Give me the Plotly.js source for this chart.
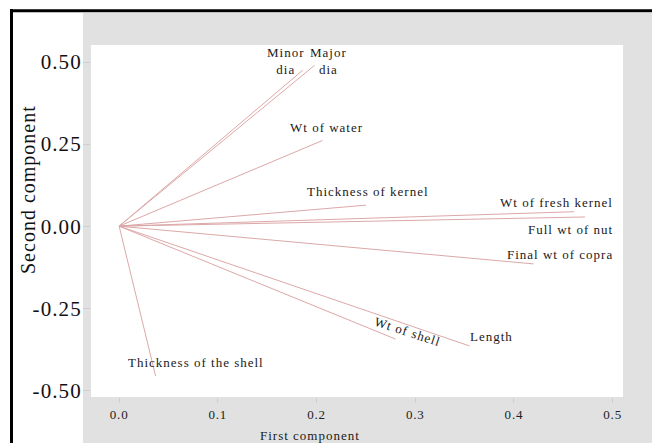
<!DOCTYPE html>
<html>
<head>
<meta charset="utf-8">
<script src="https://cdn.plot.ly/plotly-3.0.1.min.js"></script>
<style>
html,body{margin:0;padding:0;background:#fff;overflow:hidden;width:652px;height:443px;}
#chart{width:652px;height:443px;}
.annotation-text{letter-spacing:1.0px;}
.xtick text{letter-spacing:0.8px;}
.ytick text{letter-spacing:1.1px;}
</style>
</head>
<body>
<div id="chart"></div>
<script>
// ---- data (loadings) ----
const variables = ['Minor<br>dia','Major<br>dia','Wt of water','Thickness of kernel','Wt of fresh kernel',
                   'Full wt of nut','Final wt of copra','Length','Wt of shell','Thickness of the shell'];
const firstComponent  = [0.186, 0.198, 0.206, 0.250, 0.461, 0.472, 0.420, 0.355, 0.280, 0.037];
const secondComponent = [0.475, 0.490, 0.261, 0.064, 0.044, 0.028, -0.115, -0.365, -0.344, -0.457];
const xTickVals = [0, 0.1, 0.2, 0.3, 0.4, 0.5];
const xTickText = ['0.0','0.1','0.2','0.3','0.4','0.5'];
const yTickVals = [0.5, 0.25, 0, -0.25, -0.5];
const yTickText = ['0.50','0.25','0.00','-0.25','-0.50'];

// ---- layout geometry ----
const W = 652, H = 443;
const M = {l: 91, r: 29, t: 45, b: 46};
const PW = W - M.l - M.r, PH = H - M.t - M.b;
const px = x => (x - M.l) / PW;          // pixel -> paper x
const py = y => (H - M.b - y) / PH;      // pixel -> paper y

// label placement (data coords) per variable
const labelPlace = [
  {x: 0.169, y: 0.502, xa: 'center', a: 0},
  {x: 0.212, y: 0.502, xa: 'center', a: 0},
  {x: 0.2104, y: 0.2997, xa: 'center', a: 0},
  {x: 0.2517, y: 0.1046, xa: 'center', a: 0},
  {x: 0.502, y: 0.071, xa: 'right', a: 0},
  {x: 0.502, y: -0.0091, xa: 'right', a: 0},
  {x: 0.502, y: -0.0875, xa: 'right', a: 0},
  {x: 0.353, y: -0.3375, xa: 'left', a: 0},
  {x: 0.292, y: -0.322, xa: 'center', a: 18},
  {x: 0.0068, y: -0.4146, xa: 'left', a: 0}
];

const serif = 'Liberation Serif';
const lineColor = 'rgb(220,168,168)';

const traces = variables.map((v, i) => ({
  type: 'scatter', mode: 'lines',
  x: [0, firstComponent[i]], y: [0, secondComponent[i]],
  line: {color: lineColor, width: 1},
  hoverinfo: 'skip', showlegend: false
}));

const annotations = variables.map((v, i) => ({
  text: v, x: labelPlace[i].x, y: labelPlace[i].y, xref: 'x', yref: 'y',
  xanchor: labelPlace[i].xa, yanchor: 'middle', textangle: labelPlace[i].a,
  showarrow: false, font: {family: serif, size: 13, color: '#1a1a1a'}
}));
annotations.push({
  text: 'First component', xref: 'paper', yref: 'paper', x: px(310), y: py(435),
  xanchor: 'center', yanchor: 'middle', showarrow: false,
  font: {family: serif, size: 13, color: '#1a1a1a'}
});
annotations.push({
  text: 'Second component', xref: 'paper', yref: 'paper', x: px(28), y: py(190),
  xanchor: 'center', yanchor: 'middle', textangle: -90, showarrow: false,
  font: {family: serif, size: 20, color: '#111'}
});

const shapes = [
  {type: 'rect', xref: 'paper', yref: 'paper', x0: px(83), x1: px(660), y0: py(13), y1: py(450),
   fillcolor: '#e1e1e1', line: {width: 0}, layer: 'below'},
  {type: 'rect', xref: 'paper', yref: 'paper', x0: 0, x1: 1, y0: 0, y1: 1,
   fillcolor: '#ffffff', line: {width: 0}, layer: 'below'},
  {type: 'line', xref: 'paper', yref: 'paper', x0: px(11.5), x1: px(11.5), y0: py(9), y1: py(450),
   line: {color: '#000', width: 3}},
  {type: 'line', xref: 'paper', yref: 'paper', x0: px(10), x1: px(660), y0: py(10.8), y1: py(10.8),
   line: {color: '#000', width: 3}}
];

const layout = {
  width: W, height: H,
  margin: M,
  paper_bgcolor: '#ffffff', plot_bgcolor: '#ffffff',
  showlegend: false,
  xaxis: {
    range: [-0.0285, 0.5105], tickmode: 'array', tickvals: xTickVals, ticktext: xTickText,
    ticks: 'outside', ticklen: 5, tickcolor: '#cfcfcf', tickwidth: 1,
    showgrid: false, zeroline: false, showline: false,
    tickfont: {family: serif, size: 13, color: '#222'}
  },
  yaxis: {
    range: [-0.5205, 0.552], tickmode: 'array', tickvals: yTickVals, ticktext: yTickText,
    ticks: 'outside', ticklen: 7, tickcolor: '#cfcfcf', tickwidth: 1,
    ticklabelstandoff: -3,
    showgrid: false, zeroline: false, showline: false,
    tickfont: {family: serif, size: 21, color: '#111'}
  },
  annotations: annotations,
  shapes: shapes
};

Plotly.newPlot('chart', traces, layout, {displayModeBar: false, staticPlot: true});
</script>
</body>
</html>
